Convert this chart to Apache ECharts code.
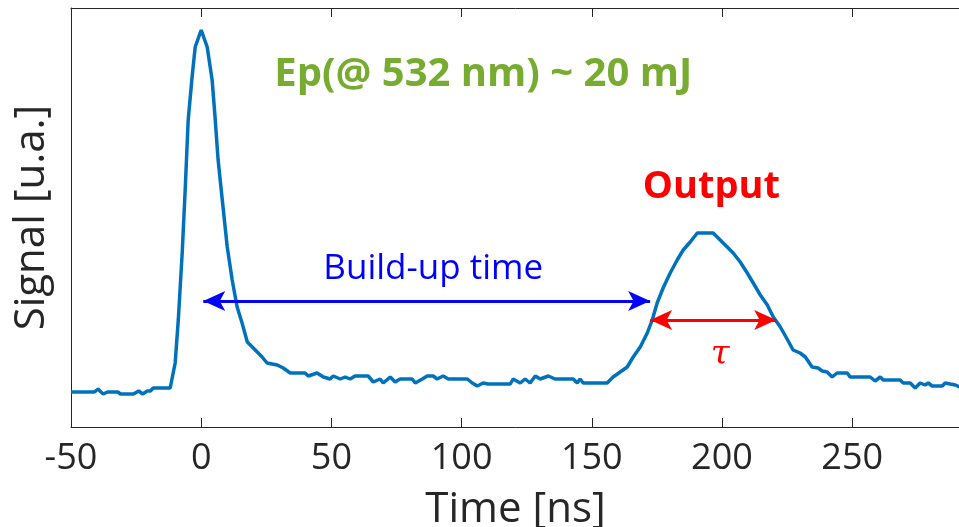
<!DOCTYPE html>
<html>
<head>
<meta charset="utf-8">
<script src="https://cdn.jsdelivr.net/npm/echarts@6/dist/echarts.min.js"></script>
<style>
html,body{margin:0;padding:0;background:#fff;}
#chart{width:959px;height:527px;}
</style>
</head>
<body>
<div id="chart"></div>
<script>
// Time axis (ns) and signal (arbitrary units)
var timeNs = [
  -50, -45, -41, -39.6, -38.5, -37.6, -36, -32, -31, -26, -24, -22.5, -20.7, -19.5, -18.4, -13,
  -11.9, -10, -8.8, -7.3, -6.1, -5.0, -3.5, -2.3, 0, 2.3, 4.2, 5.4, 6.5, 8.1, 10.0, 11.9, 13.8, 15.7, 17.7,
  20.0, 23.4, 25.3, 29.2, 31.5, 34.2, 39.9, 41.1, 44.5, 46.9, 49.5, 50.7, 53.4, 55.3, 57.2, 59.1,
  64.1, 66.1, 68.7, 69.9, 72.6, 74.5, 76.4, 81.0, 82.2, 84.9, 86.8, 89.1, 90.6, 92.9, 94.9,
  102.2, 104.1, 106.0, 108.3, 110.2, 118.7, 119.8, 122.5, 124.4, 126.3, 128.3, 130.2, 133.3, 135.9,
  142.9, 144.4, 145.5, 146.7, 155.9, 158.2, 160.9, 163.6, 165.9, 168.6, 171.3, 173.2, 175.1, 177.4,
  180.1, 182.8, 185.1, 187.8, 190.5, 196.6, 199.3, 202.0, 204.3, 207.0, 209.7, 212.0, 214.7, 217.4,
  219.7, 222.4, 225.0, 227.3, 230.0, 232.0, 234.6, 236.9, 238.5, 240.4, 242.3, 244.2, 248.1, 249.2,
  256.9, 258.8, 260.8, 261.9, 268.4, 269.6, 272.3, 274.2, 276.1, 278.0, 279.2, 280.7, 284.6, 285.7,
  287.6, 289.6, 291.4
];
var signal = [
  35, 35, 35, 38, 35, 33, 35, 35, 33, 33, 36, 33, 36, 36, 39, 39,
  39, 64, 107, 174, 240, 307, 350, 380, 397, 380, 347, 307, 267, 227, 180, 147, 120, 104, 85,
  79, 70, 64, 62, 59, 54, 54, 51, 54, 50, 48, 51, 48, 50, 48, 51,
  51, 45, 48, 44, 50, 45, 48, 48, 44, 48, 51, 51, 48, 51, 48,
  48, 44, 41, 44, 43, 43, 48, 44, 48, 44, 51, 48, 51, 48,
  48, 44, 48, 44, 44, 50, 55, 60, 70, 80, 94, 107, 124, 139,
  154, 167, 177, 185, 194, 194, 187, 180, 174, 165, 154, 144, 132, 122,
  110, 100, 88, 77, 74, 70, 60, 59, 56, 55, 50, 54, 54, 50,
  50, 46, 50, 47, 47, 44, 44, 39, 44, 42, 44, 41, 41, 44,
  43, 42, 40
];
var xTicks = [-50, 0, 50, 100, 150, 200, 250];

// Annotations (data coordinates)
var buildUpArrow = [[0.8, 126], [172.4, 126]];
var tauArrow = [[172.4, 107], [220.8, 107]];
var epText = {text: 'Ep(@ 532 nm) ~ 20 mJ', at: [108.3, 352]};
var outputText = {text: 'Output', at: [195.9, 240]};
var buildText = {text: 'Build-up time', at: [89.1, 158]};
var tauText = {text: 'τ', at: [199.3, 72]};

var series = timeNs.map(function (t, i) { return [t, signal[i]]; });
var FONT = '"Open Sans", "Noto Sans", sans-serif';

var chart = echarts.init(document.getElementById('chart'), null, {renderer: 'canvas'});
chart.setOption({
  backgroundColor: '#ffffff',
  animation: false,
  grid: {left: 71, right: -1, top: 8, bottom: 100, containLabel: false, outerBoundsMode: 'none'},
  xAxis: [{
    type: 'value', min: -50, max: 291.4, interval: 50, position: 'bottom',
    axisLine: {show: true, onZero: false, lineStyle: {color: '#262626', width: 1}},
    axisTick: {show: true, inside: true, length: 9, lineStyle: {color: '#262626'}},
    axisLabel: {show: true, color: '#262626', fontSize: 36, fontFamily: FONT, margin: 14,
      formatter: function (v) { return xTicks.indexOf(v) >= 0 ? String(v) : ''; }},
    splitLine: {show: false},
    name: 'Time [ns]', nameLocation: 'middle', nameGap: 62,
    nameTextStyle: {color: '#262626', fontSize: 42, fontFamily: FONT}
  }, {
    type: 'value', min: -50, max: 291.4, interval: 50, position: 'top',
    axisLine: {show: true, onZero: false, lineStyle: {color: '#262626', width: 1}},
    axisTick: {show: true, inside: true, length: 9, lineStyle: {color: '#262626'}},
    axisLabel: {show: false}, splitLine: {show: false}
  }],
  yAxis: {
    type: 'value', min: 0, max: 419, position: 'left',
    axisLine: {show: true, onZero: false, lineStyle: {color: '#262626', width: 1}},
    axisTick: {show: false}, axisLabel: {show: false}, splitLine: {show: false},
    name: 'Signal [u.a.]', nameLocation: 'middle', nameGap: 18, nameRotate: 90,
    nameTextStyle: {color: '#262626', fontSize: 42, fontFamily: FONT}
  },
  series: [{
    type: 'line', data: series, showSymbol: false, symbol: 'none',
    lineStyle: {color: '#0072BD', width: 3.5}, z: 3,
    markLine: {
      silent: true, symbol: ['arrow', 'arrow'], symbolSize: [15, 22],
      label: {show: false},
      data: [
        [{coord: buildUpArrow[0], lineStyle: {color: '#0000FF', width: 3, type: 'solid'}, itemStyle: {color: '#0000FF'}},
         {coord: buildUpArrow[1]}],
        [{coord: tauArrow[0], lineStyle: {color: '#FF0000', width: 3, type: 'solid'}, itemStyle: {color: '#FF0000'}},
         {coord: tauArrow[1]}]
      ]
    },
    markPoint: {
      silent: true, symbol: 'circle', symbolSize: 0,
      data: [
        {coord: epText.at, value: epText.text, label: {show: true, formatter: epText.text, position: 'inside',
          color: '#77AC30', fontWeight: 'bold', fontSize: 40, fontFamily: FONT}},
        {coord: outputText.at, value: outputText.text, label: {show: true, formatter: outputText.text, position: 'inside',
          color: '#FF0000', fontWeight: 'bold', fontSize: 38, fontFamily: FONT}},
        {coord: buildText.at, value: buildText.text, label: {show: true, formatter: buildText.text, position: 'inside',
          color: '#0000FF', fontSize: 35, fontFamily: FONT}},
        {coord: tauText.at, value: tauText.text, label: {show: true, formatter: tauText.text, position: 'inside',
          color: '#FF0000', fontSize: 34, fontStyle: 'italic', fontFamily: '"DejaVu Serif", serif'}}
      ]
    }
  }]
});
</script>
</body>
</html>
